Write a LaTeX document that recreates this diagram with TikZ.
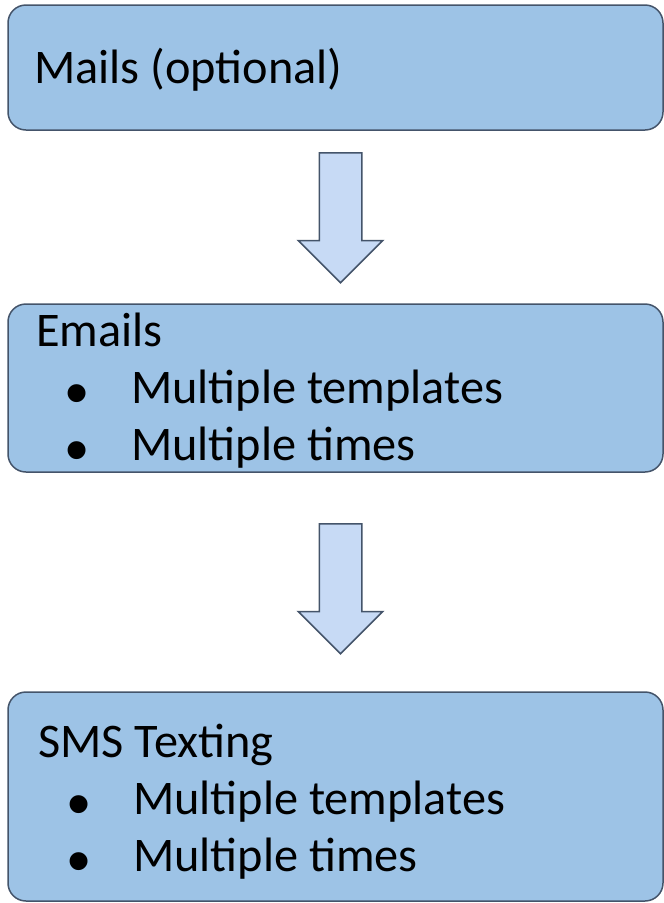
\documentclass[tikz,border=0pt]{standalone}
\usepackage{fontspec}
\setmainfont{Carlito}
\newfontfamily\bulletfont{Liberation Sans}
\usetikzlibrary{shapes.arrows,positioning}
\definecolor{myboxblue}{RGB}{157,195,230}
\definecolor{myarrowblue}{RGB}{199,218,245}
\definecolor{myslate}{RGB}{68,84,106}
\newcommand{\flowitem}[1]{\hspace*{29pt}\makebox[66pt][l]{\smash{\raisebox{-12.5pt}{\fontsize{66}{66}\bulletfont\textbullet}}}#1}

\begin{document}
\begin{tikzpicture}[
  x=1pt,y=-1pt,
  flowbox/.style={
    rectangle,
    draw=myslate,
    line width=1.5pt,
    fill=myboxblue,
    rounded corners=18pt,
    minimum width=655pt,
    inner sep=0pt
    },
  flowarrow/.style={
    single arrow,
    draw=myslate,
    line width=1.5pt,
    fill=myarrowblue,
    shape border rotate=270,
    minimum height=130pt,
    minimum width=83pt,
    single arrow head extend=21pt,
    inner sep=20.5pt
    },
  flowtext/.style={
    anchor=base west,
    inner sep=0pt,
    font=\fontsize{48.3}{57}\selectfont
  }
]
\useasboundingbox (0,0) rectangle (664,903);

\node[flowbox, minimum height=125pt] (mails) at (335.5,67.5) {};
\node[flowbox, minimum height=168pt] (emails) at (335.5,388) {};
\node[flowbox, minimum height=209pt] (sms) at (335.5,796.5) {};

\node[flowtext] (mailsText) at (34,83) {Mails (optional)};
\node[flowtext] (emailsText) at (36,346)
  {\begin{tabular}[t]{@{}l@{}}
   Emails\\
   \flowitem{Multiple templates}\\
   \flowitem{Multiple times}
   \end{tabular}};
\node[flowtext] (smsText) at (38,757)
  {\begin{tabular}[t]{@{}l@{}}
   SMS Texting\\
   \flowitem{Multiple templates}\\
   \flowitem{Multiple times}
   \end{tabular}};

\node[flowarrow, anchor=tail] (arrowA) at (340.5,152) {};
\node[flowarrow, anchor=tail] (arrowB) at (340.5,523) {};

\end{tikzpicture}
\end{document}
